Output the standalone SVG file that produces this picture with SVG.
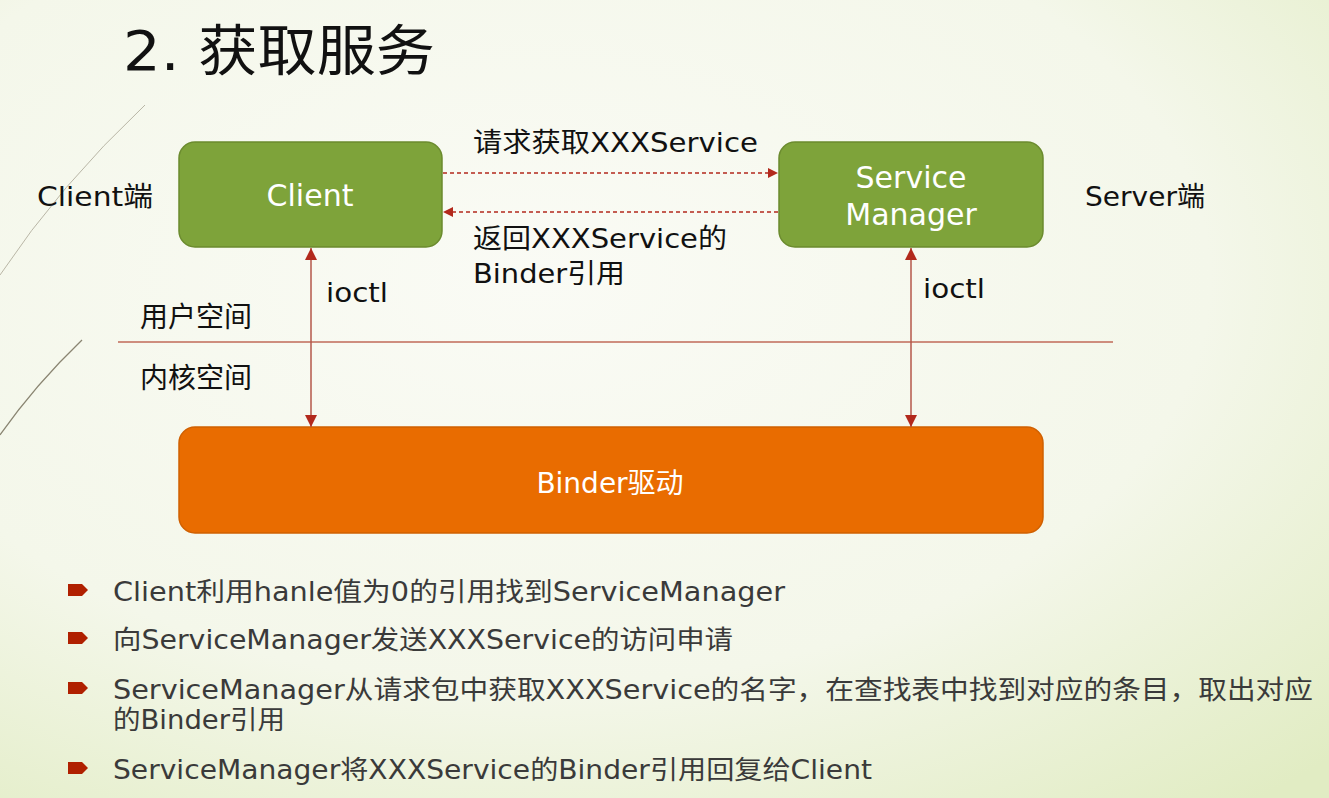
<svg xmlns="http://www.w3.org/2000/svg" width="1329" height="798" viewBox="0 0 1329 798">
<defs>
<radialGradient id="bg" cx="0.4" cy="0.35" r="0.85">
<stop offset="0" stop-color="#fafbf5"/>
<stop offset="0.6" stop-color="#f4f7ea"/>
<stop offset="1" stop-color="#e1ecc3"/>
</radialGradient>
<marker id="ah" viewBox="0 0 10 10" refX="10" refY="5" markerWidth="10" markerHeight="10" markerUnits="userSpaceOnUse" orient="auto">
<path d="M0,0 L10,5 L0,10 z" fill="#b2291c"/>
</marker>
<marker id="av" viewBox="0 0 10 10" refX="10" refY="5" markerWidth="12" markerHeight="12" markerUnits="userSpaceOnUse" orient="auto-start-reverse">
<path d="M0,0 L10,5 L0,10 z" fill="#b2291c"/>
</marker>
<path id="bul" d="M0,0 H14 L20,6 L14,12 H0 z" fill="#b02000"/>
</defs>
<style>
.t{font-family:"DejaVu Sans","Noto Sans CJK SC",sans-serif;fill:#111}
.w{font-family:"DejaVu Sans","Noto Sans CJK SC",sans-serif;fill:#ffffff}
.b{font-family:"DejaVu Sans","Noto Sans CJK SC",sans-serif;fill:#3a3a3a;font-size:26px}
.box{fill:#7ea33a;stroke:#6b8b2e;stroke-width:1.5}
</style>
<rect width="1329" height="798" fill="url(#bg)"/>
<path d="M145,105 Q60,185 0,275" fill="none" stroke="#b9b6a6" stroke-width="1"/>
<path d="M82,340 Q35,385 0,435" fill="none" stroke="#8a8572" stroke-width="1.3"/>
<text x="123" y="70" class="t" font-size="55" fill="#222" textLength="312" lengthAdjust="spacingAndGlyphs">2. 获取服务</text>
<text x="37" y="206" class="t" font-size="27" textLength="116" lengthAdjust="spacingAndGlyphs">Client端</text>
<text x="1085" y="206" class="t" font-size="27" textLength="120" lengthAdjust="spacingAndGlyphs">Server端</text>
<text x="140" y="327" class="t" font-size="28">用户空间</text>
<text x="140" y="388" class="t" font-size="28">内核空间</text>
<line x1="118" y1="342" x2="1113" y2="342" stroke="#c06a58" stroke-width="1.5"/>
<g id="client">
<rect x="179" y="142" width="263" height="105" rx="16" class="box"/>
<text x="310" y="206" class="w" font-size="30" text-anchor="middle">Client</text>
</g>
<g id="servicemanager">
<rect x="779" y="142" width="264" height="105" rx="16" class="box"/>
<text x="911" y="188" class="w" font-size="30" text-anchor="middle">Service</text>
<text x="911" y="225" class="w" font-size="30" text-anchor="middle">Manager</text>
</g>
<g id="binder">
<rect x="179" y="427" width="864" height="106" rx="16" fill="#e96c00" stroke="#d06000" stroke-width="1.5"/>
<text x="610" y="493" class="w" font-size="28" text-anchor="middle">Binder驱动</text>
</g>
<g id="connectors">
<line x1="443" y1="173" x2="778" y2="173" stroke="#b2291c" stroke-width="1.3" stroke-dasharray="4,3" marker-end="url(#ah)"/>
<line x1="778" y1="212" x2="443" y2="212" stroke="#b2291c" stroke-width="1.3" stroke-dasharray="4,3" marker-end="url(#ah)"/>
<line x1="311" y1="248" x2="311" y2="427" stroke="#b5574a" stroke-width="1.5" marker-start="url(#av)" marker-end="url(#av)"/>
<line x1="911" y1="248" x2="911" y2="427" stroke="#b5574a" stroke-width="1.5" marker-start="url(#av)" marker-end="url(#av)"/>
<text x="473" y="152" class="t" font-size="27" textLength="285" lengthAdjust="spacingAndGlyphs">请求获取XXXService</text>
<text x="473" y="248" class="t" font-size="27" textLength="254" lengthAdjust="spacingAndGlyphs">返回XXXService的</text>
<text x="473" y="283" class="t" font-size="27" textLength="152" lengthAdjust="spacingAndGlyphs">Binder引用</text>
<text x="326" y="302" class="t" font-size="27" textLength="62" lengthAdjust="spacingAndGlyphs">ioctl</text>
<text x="923" y="298" class="t" font-size="27" textLength="62" lengthAdjust="spacingAndGlyphs">ioctl</text>
</g>
<use href="#bul" x="68" y="584"/>
<use href="#bul" x="68" y="632"/>
<use href="#bul" x="68" y="682"/>
<use href="#bul" x="68" y="762"/>
<text x="113" y="601" class="b" textLength="672" lengthAdjust="spacingAndGlyphs">Client利用hanle值为0的引用找到ServiceManager</text>
<text x="113" y="649" class="b" textLength="620" lengthAdjust="spacingAndGlyphs">向ServiceManager发送XXXService的访问申请</text>
<text x="113" y="699" class="b" textLength="1200" lengthAdjust="spacingAndGlyphs">ServiceManager从请求包中获取XXXService的名字，在查找表中找到对应的条目，取出对应</text>
<text x="113" y="729" class="b" textLength="172" lengthAdjust="spacingAndGlyphs">的Binder引用</text>
<text x="113" y="779" class="b" textLength="759" lengthAdjust="spacingAndGlyphs">ServiceManager将XXXService的Binder引用回复给Client</text>
</svg>
